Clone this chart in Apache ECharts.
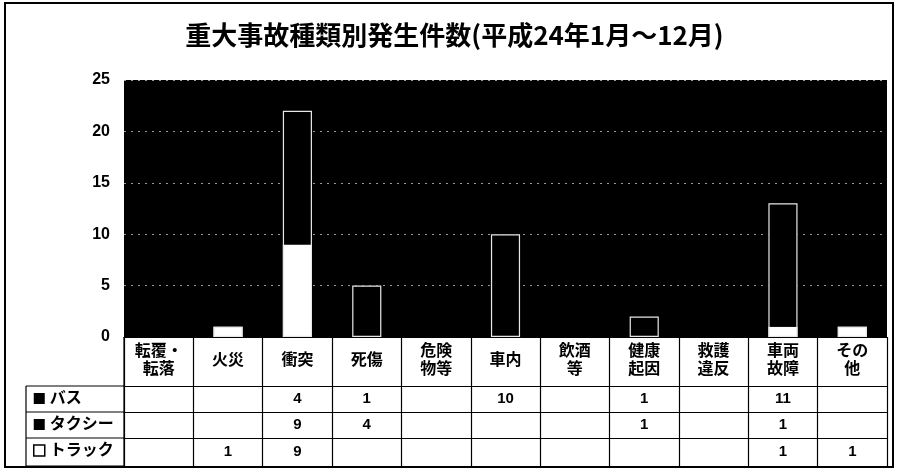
<!DOCTYPE html>
<html><head><meta charset="utf-8">
<script src="https://cdn.jsdelivr.net/npm/echarts@6/dist/echarts.min.js"></script>
<style>html,body{margin:0;padding:0;background:#fff}#c{width:909px;height:473px}</style>
</head><body><div id="c"></div>
<script>
const titleText = '重大事故種類別発生件数(平成24年1月～12月)';
const categories = ['転覆・\n転落','火災','衝突','死傷','危険\n物等','車内','飲酒\n等','健康\n起因','救護\n違反','車両\n故障','その\n他'];
const busValues   = [null,null,4,1,null,10,null,1,null,11,null];
const taxiValues  = [null,null,9,4,null,null,null,1,null,1,null];
const truckValues = [null,1,9,null,null,null,null,null,null,1,1];
const seriesNames = ['バス','タクシー','トラック'];
const yMax = 25, yStep = 5;

// outline of each stacked column (sum of the three series)
const totals = categories.map((c, i) => {
  const s = (busValues[i] || 0) + (taxiValues[i] || 0) + (truckValues[i] || 0);
  return s > 0 ? s : null;
});

const FONT = "'Liberation Sans','Noto Sans CJK JP',sans-serif";
const G = {left:124, right:22, top:80, bottom:136};
const H = 473, W = 909;
const axisY = H - G.bottom;
const headerH = 49, rowH = [26,26,28];

function rowAxis(offset, len, values, show) {
  return {
    type:'category', position:'bottom', offset: offset, data: categories,
    axisLine:{show:true, lineStyle:{color:'#000', width:1.2}},
    axisTick:{show: show, length: len, interval:0, lineStyle:{color:'#000', width:1.2}},
    axisLabel:{show: show, interval:0, margin: len/2, verticalAlign:'middle',
      fontFamily: FONT, fontWeight:'bold', fontSize:15, color:'#000',
      formatter:(v, i) => (values && values[i] != null) ? String(values[i]) : ''},
    splitLine:{show:false}
  };
}

const chart = echarts.init(document.getElementById('c'), null, {renderer:'canvas'});
let off1 = headerH, off2 = off1 + rowH[0], off3 = off2 + rowH[1], off4 = off3 + rowH[2];
const lineX0 = 26;
chart.setOption({
  animation:false,
  backgroundColor:'#fff',
  title:{text:titleText, left:'center', top:17,
    textStyle:{fontFamily:"'Noto Sans CJK JP',sans-serif", fontWeight:'bold', fontSize:26, color:'#000'}},
  grid:{left:G.left, right:G.right, top:G.top, bottom:G.bottom, show:true, backgroundColor:'#000', borderColor:'#000', borderWidth:0},
  legend:{orient:'vertical', left:33, top:axisY + off1 + 4, itemWidth:11, itemHeight:11, itemGap:9, padding:0,
    textStyle:{fontFamily:FONT, fontWeight:'bold', fontSize:16, color:'#000', lineHeight:17},
    data:[
      {name:seriesNames[0], icon:'rect', itemStyle:{color:'#000'}},
      {name:seriesNames[1], icon:'rect', itemStyle:{color:'#000'}},
      {name:seriesNames[2], icon:'rect', itemStyle:{color:'#fff', borderColor:'#000', borderWidth:1.5}}
    ]},
  xAxis:[
    {type:'category', position:'bottom', data:categories,
      axisLine:{show:true, lineStyle:{color:'#000', width:1.2}},
      axisTick:{show:true, length:headerH, interval:0, lineStyle:{color:'#000', width:1.2}},
      axisLabel:{interval:0, margin:24, verticalAlign:'middle', fontFamily:FONT, fontWeight:'bold',
        fontSize:16, lineHeight:18, color:'#000'}},
    rowAxis(off1, rowH[0], busValues, true),
    rowAxis(off2, rowH[1], taxiValues, true),
    rowAxis(off3, rowH[2], truckValues, true),
    rowAxis(off4, 0, null, false)
  ],
  yAxis:{type:'value', min:0, max:yMax, interval:yStep,
    axisLine:{show:false}, axisTick:{show:false},
    axisLabel:{margin:14, fontFamily:FONT, fontWeight:'bold', fontSize:16, color:'#000'},
    splitLine:{show:true, lineStyle:{color:'#9a9a9a', width:1, type:[2,5]}}},
  series:[
    {name:seriesNames[2], type:'bar', stack:'a', data:truckValues, barWidth:'42%', barGap:'-100%',
      itemStyle:{color:'#fff'}},
    {name:seriesNames[1], type:'bar', stack:'a', data:taxiValues, barWidth:'42%', barGap:'-100%',
      itemStyle:{color:'#000'}},
    {name:seriesNames[0], type:'bar', stack:'a', data:busValues, barWidth:'42%', barGap:'-100%',
      itemStyle:{color:'#000'}},
    {name:'outline', type:'bar', data:totals, barWidth:'42%', barGap:'-100%', z:3, silent:true,
      itemStyle:{color:'rgba(0,0,0,0)', borderColor:'#e8e8e8', borderWidth:1.2}}
  ],
  graphic:[
    {type:'rect', shape:{x:5, y:3, width:888, height:464}, style:{fill:'none', stroke:'#000', lineWidth:2}, z:-1},
    {type:'line', shape:{x1:lineX0, y1:axisY+off1, x2:lineX0, y2:axisY+off4}, style:{stroke:'#000', lineWidth:1.2}},
    {type:'line', shape:{x1:lineX0, y1:axisY+off1, x2:G.left, y2:axisY+off1}, style:{stroke:'#000', lineWidth:1.2}},
    {type:'line', shape:{x1:lineX0, y1:axisY+off2, x2:G.left, y2:axisY+off2}, style:{stroke:'#000', lineWidth:1.2}},
    {type:'line', shape:{x1:lineX0, y1:axisY+off3, x2:G.left, y2:axisY+off3}, style:{stroke:'#000', lineWidth:1.2}},
    {type:'line', shape:{x1:lineX0, y1:axisY+off4, x2:G.left, y2:axisY+off4}, style:{stroke:'#000', lineWidth:1.2}},
    {type:'line', shape:{x1:G.left, y1:axisY, x2:G.left, y2:axisY+off4}, style:{stroke:'#000', lineWidth:1.2}}
  ]
});
</script></body></html>
